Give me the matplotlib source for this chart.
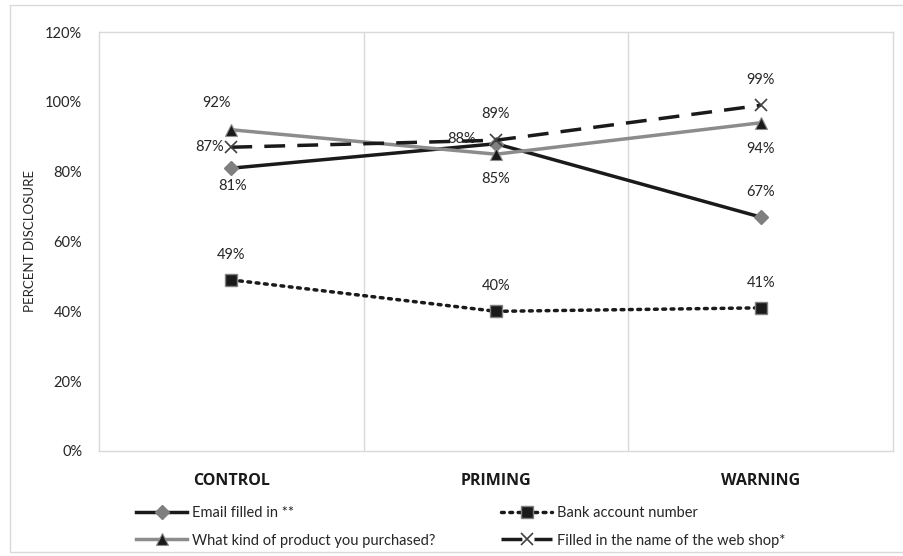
import matplotlib
matplotlib.use("Agg")
import matplotlib.pyplot as plt
from matplotlib.patches import Rectangle

plt.rcParams['font.family'] = ['Lato', 'DejaVu Sans']

categories = ["CONTROL", "PRIMING", "WARNING"]
email = [81, 88, 67]
bank = [49, 40, 41]
product = [92, 85, 94]
webshop = [87, 89, 99]
yticks = [0, 20, 40, 60, 80, 100, 120]

series_names = ["Email filled in **", "Bank account number",
                "What kind of product you purchased?", "Filled in the name of the web shop*"]

fig = plt.figure(figsize=(9.04, 5.56), dpi=100)
ax = fig.add_axes([99/904, 1-451/556, (893-99)/904, (451-32)/556])

x = list(range(len(categories)))
grid = '#d9d9d9'

l_email, = ax.plot(x, email, color='#1a1a1a', lw=2.5, marker='D', ms=7,
                   mfc='#7f7f7f', mec='#7f7f7f', zorder=3)
l_bank, = ax.plot(x, bank, color='#1a1a1a', lw=2.5, ls=(0, (0.8, 1.6)),
                  dash_capstyle='round', marker='s', ms=8, mfc='#1a1a1a',
                  mec='#808080', mew=1, zorder=3)
l_prod, = ax.plot(x, product, color='#8c8c8c', lw=2.5, marker='^', ms=8,
                  mfc='#1a1a1a', mec='#8c8c8c', mew=0.8, zorder=3)
l_web, = ax.plot(x, webshop, color='#1a1a1a', lw=2.5, ls=(0, (6, 3.5)),
                 marker='x', ms=9, mew=1.2, mec='#404040', zorder=4)

ax.set_xlim(-0.5, 2.5)
ax.set_ylim(0, 120)
ax.set_yticks(yticks)
ax.set_yticklabels([f"{v}%" for v in yticks], fontsize=10.5, color='#262626')
ax.set_xticks(x)
ax.set_xticklabels(categories, fontsize=11.5, fontweight='bold', color='#1a1a1a',
                   family=['Open Sans', 'DejaVu Sans'])
ax.tick_params(axis='both', length=0)
ax.tick_params(axis='x', pad=15.5)
ax.tick_params(axis='y', pad=12)
for b in [0.5, 1.5]:
    ax.axvline(b, color=grid, lw=1, zorder=0)
for s in ax.spines.values():
    s.set_color(grid)
    s.set_linewidth(1)
ax.set_ylabel("PERCENT DISCLOSURE", fontsize=9.5, color='#262626')
ax.yaxis.set_label_coords((36-99)/794, 0.5)

def lab(xi, v, dx, dy):
    ax.annotate(f"{v}%", (xi, v), xytext=(dx, dy), textcoords='offset points',
                ha='center', va='center', fontsize=10.5, color='#262626')

# email
lab(0, email[0], 1, -13)
lab(1, email[1], -24.5, 3.5)
lab(2, email[2], 0, 18)
# bank
for i in range(3):
    lab(i, bank[i], 0, 18)
# product
lab(0, product[0], -11, 19)
lab(1, product[1], 0, -18)
lab(2, product[2], 0, -19)
# webshop
lab(0, webshop[0], -16, 0)
lab(1, webshop[1], 0, 19)
lab(2, webshop[2], 0, 18)

fig.legend([l_email, l_prod, l_bank, l_web],
           [series_names[0], series_names[2], series_names[1], series_names[3]],
           ncol=2, loc='center left', bbox_to_anchor=(123/904, 1-527/556), frameon=False,
           fontsize=10.5, handlelength=3.5, handletextpad=0.3, columnspacing=4.55,
           labelspacing=0.9, labelcolor='#262626')

fig.add_artist(Rectangle((10/904, 1-552/556), 1.0, (552-5)/556,
                         transform=fig.transFigure, fill=False, ec=grid, lw=1))

fig.savefig("out.png", dpi=100)
